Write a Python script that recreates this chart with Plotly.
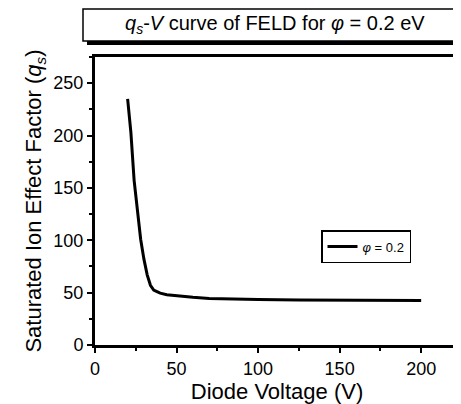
import plotly.graph_objects as go

# q_s - V curve, phi = 0.2 eV
voltage = [20, 22, 24, 26, 28, 30, 32, 34, 36, 38, 40, 44, 50, 60, 70, 80, 100, 125, 150, 175, 200]
qs = [235, 203, 157, 130, 101, 82, 67, 57, 52.5, 51, 49.5, 48, 47, 45.5, 44.5, 44, 43.5, 43, 43, 42.8, 42.5]

x_ticks = [0, 50, 100, 150, 200]
y_ticks = [0, 50, 100, 150, 200, 250]

FONT = "Liberation Sans, Arial, Helvetica, sans-serif"

fig = go.Figure()
fig.add_trace(go.Scatter(x=voltage, y=qs, mode="lines", name="<i>\u03c6</i> = 0.2",
                         line=dict(color="black", width=3)))


# page has an 8px body margin, positions below are in screen pixels
def px_x(p):
    return (p - 95) / 364


def px_y(p):
    return (345 - p) / 288


fig.update_layout(
    width=453, height=396,
    margin=dict(l=87, r=2, t=49, b=59),
    plot_bgcolor="white", paper_bgcolor="white",
    font=dict(family=FONT, color="black", size=18),
    showlegend=True,
    legend=dict(x=px_x(321), y=px_y(230), xanchor="left", yanchor="top",
                bordercolor="black", borderwidth=1.5, bgcolor="white",
                font=dict(size=13), itemwidth=30, tracegroupgap=0),
    shapes=[
        # title box shadow
        dict(type="rect", xref="paper", yref="paper",
             x0=px_x(87), x1=px_x(470), y0=px_y(45), y1=px_y(12),
             fillcolor="black", line=dict(width=0), layer="above"),
        dict(type="rect", xref="paper", yref="paper",
             x0=px_x(83), x1=px_x(470), y0=px_y(41), y1=px_y(9),
             fillcolor="white", line=dict(color="black", width=1.5), layer="above"),
        # thin right border
        dict(type="line", xref="paper", yref="paper", x0=1, x1=1, y0=0, y1=1,
             line=dict(color="#999999", width=1)),
    ],
    annotations=[
        dict(xref="paper", yref="paper", x=px_x(275), y=px_y(25),
             text="<i>q<sub>s</sub></i>-<i>V</i> curve of FELD for <i>\u03c6</i> = 0.2 eV",
             showarrow=False, font=dict(size=20, family=FONT),
             xanchor="center", yanchor="middle"),
    ],
)

fig.update_xaxes(
    range=[0, 223.2], title=dict(text="Diode Voltage (V)", standoff=3),
    tickvals=x_ticks, showgrid=False, zeroline=False,
    showline=True, linecolor="black", linewidth=3, mirror=True,
    ticks="outside", ticklen=5, tickwidth=2, tickcolor="black",
    minor=dict(dtick=25, ticks="outside", ticklen=3, tickwidth=2, tickcolor="black"),
)
fig.update_yaxes(
    range=[0, 275], title=dict(text="Saturated Ion Effect Factor (<i>q<sub>s</sub></i>)", standoff=6),
    tickvals=y_ticks, showgrid=False, zeroline=False,
    showline=True, linecolor="black", linewidth=3,
    ticks="outside", ticklen=5, tickwidth=2, tickcolor="black",
    minor=dict(dtick=25, ticks="outside", ticklen=3, tickwidth=2, tickcolor="black"),
)

fig.write_html("out.html")
